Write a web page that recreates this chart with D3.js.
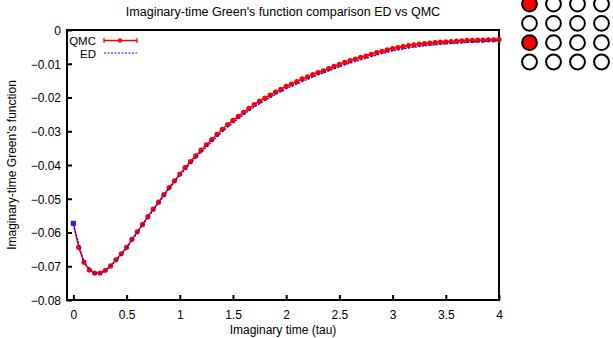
<!DOCTYPE html>
<html>
<head>
<meta charset="utf-8">
<script src="https://cdn.jsdelivr.net/npm/d3@7"></script>
<style>
  body { margin: 0; background: #fff; }
  svg { font-family: "Liberation Sans", Arial, sans-serif; }
</style>
</head>
<body>
<svg id="chart" width="613" height="338"></svg>
<script>
// QMC data, tau = 0 .. 4 in steps of 0.05
const qmcTau = d3.range(0, 81).map(i => i * 0.05);
const qmcG = [
  -0.0573, -0.0644, -0.0688, -0.0711, -0.0720, -0.0720, -0.0712, -0.0699, -0.0681, -0.0663,
  -0.0644, -0.0620, -0.0598, -0.0576, -0.0553, -0.0531, -0.0510, -0.0488, -0.0467, -0.0447,
  -0.0427, -0.0408, -0.0390, -0.0373, -0.0356, -0.0340, -0.0325, -0.0309, -0.0294, -0.0280,
  -0.0268, -0.0256, -0.0244, -0.0232, -0.0221, -0.0211, -0.0202, -0.0193, -0.0184, -0.0176,
  -0.0167, -0.0160, -0.0153, -0.0145, -0.0139, -0.0132, -0.0126, -0.0121, -0.0114, -0.0108,
  -0.0102, -0.0096, -0.0091, -0.0086, -0.0081, -0.0077, -0.0072, -0.0067, -0.0063, -0.0059,
  -0.0055, -0.0052, -0.0049, -0.0046, -0.0044, -0.0042, -0.0040, -0.0039, -0.0037, -0.0036,
  -0.0035, -0.0034, -0.0033, -0.0032, -0.0031, -0.0031, -0.0030, -0.0030, -0.0029, -0.0029,
  -0.0028
];

// ED data, tau = 0 .. 4 in steps of 0.1
const edTau = d3.range(0, 41).map(i => i * 0.1);
const edG = [
  -0.0573, -0.0688, -0.0720, -0.0712, -0.0681, -0.0644, -0.0598, -0.0553, -0.0510, -0.0467,
  -0.0428, -0.0392, -0.0359, -0.0329, -0.0298, -0.0272, -0.0248, -0.0225, -0.0206, -0.0188,
  -0.0171, -0.0157, -0.0143, -0.0130, -0.0118, -0.0106, -0.0095, -0.0086, -0.0076, -0.0067,
  -0.0059, -0.0053, -0.0048, -0.0044, -0.0041, -0.0038, -0.0036, -0.0034, -0.0032, -0.0030,
  -0.0028
];

const xTicks = [0, 0.5, 1, 1.5, 2, 2.5, 3, 3.5, 4];
const yTicks = [0, -0.01, -0.02, -0.03, -0.04, -0.05, -0.06, -0.07, -0.08];

// little 4x4 occupation grid in the top right corner
const gridCols = [0, 1, 2, 3];
const gridRows = [0, 1, 2, 3];
const filledSites = [[0, 0], [0, 2]];

const svg = d3.select("#chart");
const plotL = 67, plotR = 499, plotT = 30, plotB = 300;
const fs = 12;

const x = d3.scaleLinear().domain([-0.06, 4]).range([plotL, plotR]);
const y = d3.scaleLinear().domain([-0.08, 0]).range([plotB, plotT]);

// title
svg.append("text")
  .attr("x", (plotL + plotR) / 2).attr("y", 16)
  .attr("text-anchor", "middle")
  .attr("font-size", 12.5)
  .text("Imaginary-time Green's function comparison ED vs QMC");

// axes (ticks point inward, like gnuplot)
const xAxis = svg.append("g").attr("transform", `translate(0,${plotB})`)
  .call(d3.axisBottom(x).tickValues(xTicks).tickSizeInner(-5).tickSizeOuter(0)
    .tickFormat(d3.format("")));
const yAxis = svg.append("g").attr("transform", `translate(${plotL},0)`)
  .call(d3.axisLeft(y).tickValues(yTicks).tickSizeInner(-5).tickSizeOuter(0)
    .tickFormat(d => d === 0 ? "0" : d3.format(".2f")(d)));

[xAxis, yAxis].forEach(a => {
  a.select(".domain").remove();
  a.selectAll(".tick line").attr("stroke", "#000").attr("stroke-width", 2);
  a.selectAll(".tick text").attr("font-size", fs).attr("fill", "#000")
    .attr("font-family", "Liberation Sans, Arial, sans-serif");
});
xAxis.selectAll(".tick text").attr("dy", "0.71em").attr("y", 10);
yAxis.selectAll(".tick text").attr("x", -6).attr("dy", "0.36em");

// frame
svg.append("rect")
  .attr("x", plotL).attr("y", plotT)
  .attr("width", plotR - plotL).attr("height", plotB - plotT)
  .attr("fill", "none").attr("stroke", "#000").attr("stroke-width", 2);

// axis labels
svg.append("text")
  .attr("x", (plotL + plotR) / 2).attr("y", 334)
  .attr("text-anchor", "middle").attr("font-size", fs)
  .text("Imaginary time (tau)");
svg.append("text")
  .attr("transform", `translate(16,${(plotT + plotB) / 2}) rotate(-90)`)
  .attr("text-anchor", "middle").attr("font-size", fs)
  .text("Imaginary-time Green's function");

// QMC series
const qmc = qmcTau.map((t, i) => ({ t, g: qmcG[i] }));
const ed = edTau.map((t, i) => ({ t, g: edG[i] }));
const line = d3.line().x(d => x(d.t)).y(d => y(d.g));

svg.append("path").datum(qmc)
  .attr("d", line).attr("fill", "none")
  .attr("stroke", "#ff0000").attr("stroke-width", 1.5);
svg.append("g").selectAll("circle")
  .data(qmc).join("circle")
  .attr("cx", d => x(d.t)).attr("cy", d => y(d.g)).attr("r", 2.6)
  .attr("fill", "#ff0000");

// ED series
svg.append("path").datum(ed)
  .attr("d", line).attr("fill", "none")
  .attr("stroke", "#0000ff").attr("stroke-width", 1.2)
  .attr("stroke-dasharray", "2,1.5")
  .attr("transform", "translate(0,1)");
svg.append("rect")
  .attr("x", x(ed[0].t) - 2.5).attr("y", y(ed[0].g) - 2.5)
  .attr("width", 5).attr("height", 5).attr("fill", "#2020ff");

// legend
svg.append("text").attr("x", 96).attr("y", 44.5)
  .attr("text-anchor", "end").attr("font-size", 11.5).text("QMC");
svg.append("line").attr("x1", 104).attr("x2", 137).attr("y1", 40.5).attr("y2", 40.5)
  .attr("stroke", "#ff0000").attr("stroke-width", 1.5);
[104, 137].forEach(px => svg.append("line")
  .attr("x1", px).attr("x2", px).attr("y1", 38).attr("y2", 43)
  .attr("stroke", "#ff0000").attr("stroke-width", 1.2));
svg.append("circle").attr("cx", 120).attr("cy", 40.5).attr("r", 2.2)
  .attr("fill", "#ff0000");
svg.append("text").attr("x", 96).attr("y", 57.5)
  .attr("text-anchor", "end").attr("font-size", 11.5).text("ED");
svg.append("line").attr("x1", 104).attr("x2", 137).attr("y1", 53).attr("y2", 53)
  .attr("stroke", "#0000ff").attr("stroke-width", 1.2).attr("stroke-dasharray", "2,1.5");

// occupation grid
const gx = d3.scaleLinear().domain([0, 3]).range([529.5, 601.5]);
const gy = d3.scaleLinear().domain([0, 3]).range([4, 62]);
const sites = gridRows.flatMap(r => gridCols.map(c => ({ c, r })));
svg.append("g").selectAll("circle")
  .data(sites).join("circle")
  .attr("cx", d => gx(d.c)).attr("cy", d => gy(d.r)).attr("r", 7.4)
  .attr("fill", d => filledSites.some(s => s[0] === d.c && s[1] === d.r) ? "#ff0000" : "#fff")
  .attr("stroke", "#000").attr("stroke-width", 2);
</script>
</body>
</html>
